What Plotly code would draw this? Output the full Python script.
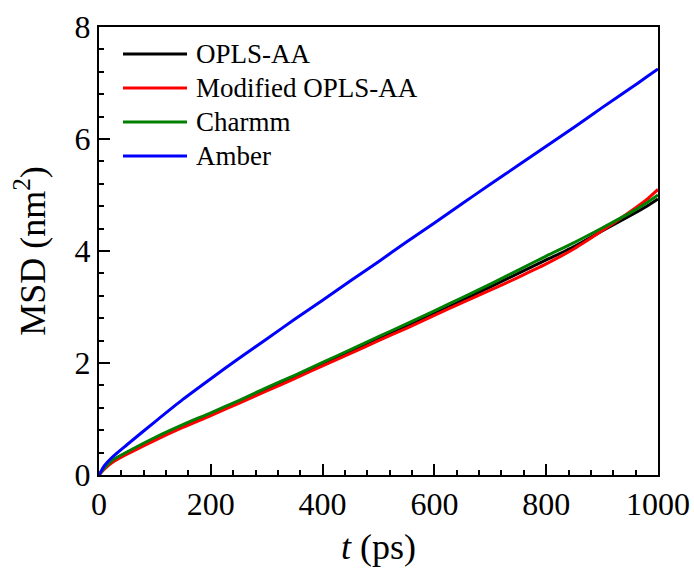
import plotly.graph_objects as go

# time points (ps)
t = [0, 10, 25, 50, 100, 150, 200, 250, 300, 350, 400, 450, 500, 550, 600,
     650, 700, 750, 800, 850, 900, 950, 980, 1000]

opls_aa = [0, 0.13, 0.26, 0.40, 0.65, 0.88, 1.09, 1.31, 1.53, 1.76, 1.98, 2.20,
           2.43, 2.65, 2.88, 3.12, 3.36, 3.60, 3.84, 4.08, 4.36, 4.63, 4.80, 4.93]
mod_opls_aa = [0, 0.11, 0.23, 0.37, 0.62, 0.85, 1.06, 1.28, 1.50, 1.72, 1.95, 2.17,
               2.40, 2.62, 2.85, 3.08, 3.30, 3.53, 3.77, 4.04, 4.36, 4.70, 4.92, 5.10]
charmm = [0, 0.13, 0.27, 0.41, 0.67, 0.90, 1.11, 1.33, 1.56, 1.78, 2.01, 2.24,
          2.47, 2.70, 2.93, 3.17, 3.41, 3.66, 3.91, 4.15, 4.41, 4.68, 4.86, 5.00]
amber = [0, 0.17, 0.33, 0.54, 0.95, 1.35, 1.72, 2.08, 2.43, 2.78, 3.12, 3.47,
         3.81, 4.16, 4.50, 4.85, 5.19, 5.53, 5.87, 6.21, 6.56, 6.90, 7.11, 7.25]

names = ["OPLS-AA", "Modified OPLS-AA", "Charmm", "Amber"]
colors = ["#000000", "#ff0000", "#008000", "#0000ff"]
series = [opls_aa, mod_opls_aa, charmm, amber]

x_ticks = [0, 200, 400, 600, 800, 1000]
y_ticks = [0, 2, 4, 6, 8]

FONT = "Liberation Serif, Times New Roman, serif"

fig = go.Figure()
for name, col, ys in zip(names, colors, series):
    fig.add_trace(go.Scatter(x=t, y=ys, mode="lines", name=name,
                             line=dict(color=col, width=3, shape="spline", smoothing=0.6),
                             showlegend=False))

# manual legend (line samples + labels) in paper coordinates
L, R, T, B = 99, 658, 27, 475
W, H = R - L, B - T
row_y = [54, 88, 122, 156]
for name, col, py in zip(names, colors, row_y):
    yp = (B - py) / H
    fig.add_shape(type="line", xref="paper", yref="paper",
                  x0=(123 - L) / W, x1=(187 - L) / W, y0=yp, y1=yp,
                  line=dict(color=col, width=3))
    fig.add_annotation(xref="paper", yref="paper", x=(194 - L) / W, y=yp,
                       text=name, showarrow=False, xanchor="left", yanchor="middle",
                       font=dict(family=FONT, size=27, color="black"))

axis_common = dict(
    showline=True, linecolor="black", linewidth=2, mirror=True,
    ticks="inside", ticklen=11, tickwidth=2, tickcolor="black",
    showgrid=False, zeroline=False, automargin=False,
    tickfont=dict(family=FONT, size=32, color="black"),
)

fig.update_xaxes(range=[0, 1000], tickvals=x_ticks,
                 minor=dict(ticks="inside", ticklen=5, tickwidth=2, tickcolor="black", dtick=40, showgrid=False),
                 title=dict(text="<i>t</i> (ps)", font=dict(family=FONT, size=36, color="black"), standoff=12),
                 **axis_common)
fig.update_yaxes(range=[0, 8], tickvals=y_ticks,
                 minor=dict(ticks="inside", ticklen=5, tickwidth=2, tickcolor="black", dtick=0.4, showgrid=False),
                 title=dict(text="MSD (nm<sup>2</sup>)", font=dict(family=FONT, size=36, color="black"), standoff=18),
                 **axis_common)

fig.update_layout(
    width=694, height=568,
    margin=dict(l=L, r=694 - R, t=T, b=568 - B),
    plot_bgcolor="white", paper_bgcolor="white",
    showlegend=False,
)

fig.write_html("out.html")
